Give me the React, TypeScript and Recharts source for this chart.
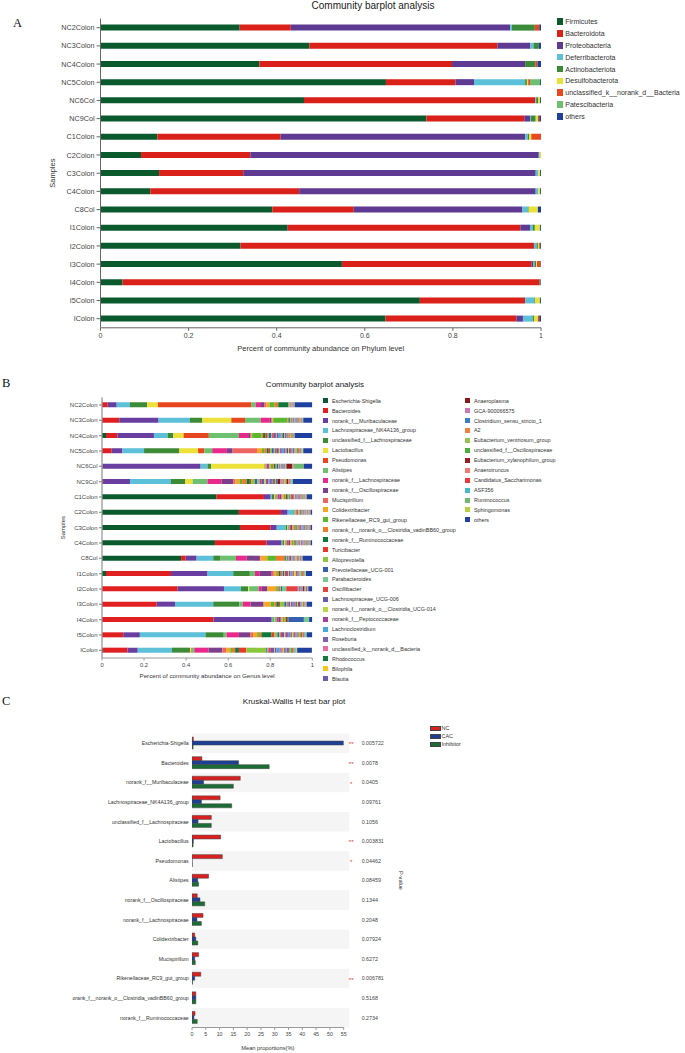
import React from "react";
import { Bar, BarChart, Label, Legend, ReferenceArea, XAxis, YAxis } from "recharts";

const FONT = "Arial, 'Liberation Sans', Helvetica, sans-serif";

// ---------- Panel A : phylum level ----------
const samples = [
  "NC2Colon", "NC3Colon", "NC4Colon", "NC5Colon", "NC6Col", "NC9Col",
  "C1Colon", "C2Colon", "C3Colon", "C4Colon", "C8Col",
  "I1Colon", "I2Colon", "I3Colon", "I4Colon", "I5Colon", "IColon",
];

const phylumNames = [
  "Firmicutes", "Bacteroidota", "Proteobacteria", "Deferribacterota", "Actinobacteriota",
  "Desulfobacterota", "unclassified_k__norank_d__Bacteria", "Patescibacteria", "others",
];
const phylumColors = [
  "#0b5a2e", "#da2119", "#5e3a93", "#5cc0d8", "#3a8a3a", "#e8e13a", "#e8481e", "#6cc070", "#1f3fa0",
];

const firmicutes = [0.316, 0.474, 0.361, 0.648, 0.462, 0.74, 0.129, 0.092, 0.133, 0.113, 0.39, 0.425, 0.318, 0.548, 0.05, 0.725, 0.647];
const bacteroidota = [0.116, 0.427, 0.437, 0.158, 0.525, 0.222, 0.28, 0.248, 0.191, 0.338, 0.185, 0.528, 0.666, 0.431, 0.947, 0.239, 0.297];
const proteobacteria = [0.498, 0.075, 0.166, 0.042, 0, 0.013, 0.555, 0.655, 0.664, 0.537, 0.383, 0.022, 0, 0.003, 0, 0, 0.015];
const deferribacterota = [0.004, 0.007, 0, 0.116, 0.002, 0.002, 0.006, 0.002, 0.006, 0.006, 0.012, 0.006, 0.006, 0.003, 0, 0.021, 0.022];
const actinobacteriota = [0.052, 0.012, 0.023, 0.004, 0.005, 0.011, 0.003, 0, 0, 0, 0.002, 0.005, 0.003, 0.004, 0.002, 0.002, 0.003];
const desulfobacterota = [0, 0, 0, 0.003, 0.004, 0.005, 0.005, 0.003, 0.004, 0.004, 0.021, 0.011, 0.003, 0.002, 0, 0.01, 0.009];
const unclassifiedBacteria = [0.01, 0, 0.005, 0.004, 0, 0.003, 0.022, 0, 0, 0, 0, 0, 0.002, 0.008, 0, 0, 0.003];
const patescibacteria = [0, 0, 0, 0.023, 0, 0, 0, 0, 0, 0, 0, 0.001, 0, 0, 0, 0.001, 0];
const phylumOthers = [0.004, 0.005, 0.008, 0.002, 0.002, 0.004, 0, 0, 0.002, 0.002, 0.007, 0.002, 0.002, 0.001, 0.001, 0.002, 0.004];

const phylumSeries = [
  firmicutes, bacteroidota, proteobacteria, deferribacterota, actinobacteriota,
  desulfobacterota, unclassifiedBacteria, patescibacteria, phylumOthers,
];

const ticks01 = [0, 0.2, 0.4, 0.6, 0.8, 1];

// ---------- Panel B : genus level ----------
const genusNames = [
  "Escherichia-Shigella", "Bacteroides", "norank_f__Muribaculaceae", "Lachnospiraceae_NK4A136_group",
  "unclassified_f__Lachnospiraceae", "Lactobacillus", "Pseudomonas", "Alistipes",
  "norank_f__Lachnospiraceae", "norank_f__Oscillospiraceae", "Mucispirillum", "Colidextribacter",
  "Rikenellaceae_RC9_gut_group", "norank_f__norank_o__Clostridia_vadinBB60_group", "norank_f__Ruminococcaceae",
  "Turicibacter", "Alloprevotella", "Prevotellaceae_UCG-001", "Parabacteroides", "Oscillibacter",
  "Lachnospiraceae_UCG-006", "norank_f__norank_o__Clostridia_UCG-014", "norank_f__Peptococcaceae",
  "Lachnoclostridium", "Roseburia", "unclassified_k__norank_d__Bacteria", "Rhodococcus", "Bilophila", "Blautia",
  "Anaeroplasma", "GCA-900066575", "Clostridium_sensu_stricto_1", "A2", "Eubacterium_ventriosum_group",
  "unclassified_f__Oscillospiraceae", "Eubacterium_xylanophilum_group", "Anaerotruncus",
  "Candidatus_Saccharimonas", "ASF356", "Ruminococcus", "Sphingomonas", "others",
];
const genusColors = [
  "#0b5a2e", "#e02020", "#6a3ea1", "#5bc0d8", "#3d8b37", "#ece03a", "#e8461e", "#6cc070",
  "#e8288a", "#7b3f8c", "#ee6560", "#f5a623", "#5ab82e", "#f07a2a", "#0d7a3c",
  "#e83a2a", "#8cc63e", "#3560b0", "#78c890", "#e84040", "#6a5aae", "#b8d848", "#a0459a",
  "#48a8dc", "#8060b0", "#ec6aa8", "#137a3a", "#f7c71a", "#6a60b0",
  "#8a1a1a", "#c878b8", "#3a80c0", "#f08040", "#98c050", "#4aae3a", "#9a1c1c", "#f07a70",
  "#e83838", "#4ab8c8", "#70b870", "#b8d040", "#2040a0",
];
const genusFirstColumn = 29;

const gNC2 = [0, 0.027, 0.043, 0.063, 0.082, 0.051, 0.445, 0.02, 0.025, 0.015, 0.01, 0.015, 0.025, 0.017, 0.048, 0.002, 0.002, 0.001, 0.002, 0.001, 0.001, 0.001, 0.002, 0.001, 0.001, 0.001, 0.001, 0.001, 0.001, 0.001, 0.001, 0.001, 0.001, 0.001, 0.001, 0.001, 0.001, 0.001, 0.001, 0.001, 0.001, 0.084];
const gNC3 = [0, 0.082, 0.187, 0.149, 0.059, 0.138, 0.065, 0.074, 0.044, 0.008, 0.003, 0.005, 0.068, 0.005, 0.006, 0.003, 0.004, 0.003, 0.004, 0.003, 0.003, 0.003, 0.002, 0.003, 0.002, 0.002, 0.002, 0.002, 0.003, 0.002, 0.002, 0.002, 0.004, 0.002, 0.002, 0.002, 0.002, 0.002, 0.002, 0.002, 0.001, 0.043];
const gNC4 = [0.019, 0.054, 0.174, 0.065, 0.027, 0.049, 0.12, 0.143, 0.044, 0.011, 0.003, 0.005, 0.044, 0.008, 0.012, 0.01, 0.005, 0.012, 0.004, 0.008, 0.01, 0.004, 0.006, 0.012, 0.004, 0.005, 0.008, 0.003, 0.005, 0.003, 0.004, 0.006, 0.01, 0.003, 0.004, 0.002, 0.002, 0.003, 0.002, 0.002, 0.001, 0.084];
const gNC5 = [0, 0.046, 0.051, 0.103, 0.168, 0.089, 0.029, 0.038, 0.07, 0.027, 0.116, 0.024, 0.01, 0.012, 0.01, 0.006, 0.008, 0.01, 0.006, 0.008, 0.01, 0.006, 0.008, 0.01, 0.006, 0.008, 0.006, 0.004, 0.008, 0.004, 0.006, 0.008, 0.006, 0.004, 0.006, 0.004, 0.006, 0.004, 0.004, 0.004, 0.004, 0.043];
const gNC6 = [0, 0.003, 0.466, 0.033, 0.017, 0.254, 0.004, 0.007, 0.006, 0.004, 0.003, 0.005, 0.012, 0.004, 0.006, 0.003, 0.004, 0.006, 0.004, 0.003, 0.005, 0.004, 0.003, 0.005, 0.003, 0.004, 0.003, 0.003, 0.004, 0.027, 0.001, 0.001, 0.001, 0.001, 0.001, 0.001, 0.001, 0, 0, 0.048, 0, 0.04];
const gNC9 = [0, 0.005, 0.128, 0.195, 0.068, 0.035, 0, 0.071, 0.067, 0.055, 0.01, 0.02, 0.012, 0.022, 0.015, 0.006, 0.018, 0.012, 0.01, 0.008, 0.015, 0.008, 0.012, 0.006, 0.01, 0.006, 0.008, 0.004, 0.01, 0.012, 0.006, 0.004, 0.01, 0.006, 0.004, 0.008, 0.005, 0.004, 0.006, 0.004, 0.002, 0.093];
const gC1 = [0.545, 0.225, 0.032, 0.006, 0.012, 0.004, 0.003, 0.008, 0.01, 0.008, 0.004, 0.006, 0.008, 0.004, 0.006, 0.004, 0.004, 0.004, 0.006, 0.012, 0.004, 0.004, 0.004, 0.004, 0.003, 0.008, 0.003, 0.003, 0.003, 0.002, 0.002, 0.003, 0.002, 0.002, 0.002, 0.001, 0.003, 0.002, 0.002, 0.002, 0.003, 0.027];
const gC2 = [0.651, 0.2, 0.032, 0.027, 0.006, 0.002, 0.002, 0.004, 0.003, 0.004, 0.002, 0.003, 0.004, 0.002, 0.003, 0.002, 0.002, 0.003, 0.002, 0.003, 0.003, 0.002, 0.002, 0.003, 0.002, 0.002, 0.002, 0.002, 0.002, 0.001, 0.001, 0.002, 0.002, 0.001, 0.001, 0.001, 0.002, 0.001, 0.001, 0.001, 0.001, 0.008];
const gC3 = [0.656, 0.146, 0.029, 0.043, 0.008, 0.003, 0.003, 0.005, 0.005, 0.006, 0.003, 0.005, 0.006, 0.003, 0.004, 0.003, 0.003, 0.004, 0.003, 0.004, 0.004, 0.003, 0.003, 0.004, 0.003, 0.003, 0.003, 0.003, 0.003, 0.002, 0.002, 0.003, 0.003, 0.002, 0.002, 0.002, 0.002, 0.001, 0.001, 0.001, 0, 0.008];
const gC4 = [0.537, 0.246, 0.071, 0.004, 0.009, 0.004, 0.003, 0.006, 0.008, 0.006, 0.003, 0.006, 0.008, 0.004, 0.005, 0.003, 0.003, 0.004, 0.004, 0.005, 0.004, 0.003, 0.004, 0.004, 0.003, 0.004, 0.003, 0.004, 0.003, 0.002, 0.002, 0.003, 0.002, 0.002, 0.002, 0.001, 0.002, 0.001, 0.001, 0.002, 0.001, 0.008];
const gC8 = [0.376, 0.022, 0.052, 0.079, 0.035, 0, 0, 0.073, 0.051, 0.063, 0.003, 0.032, 0.041, 0.041, 0.006, 0.003, 0.004, 0.006, 0.003, 0.004, 0.005, 0.003, 0.004, 0.004, 0.003, 0.004, 0.003, 0.006, 0.003, 0.002, 0.003, 0.003, 0.003, 0.002, 0.002, 0.002, 0.002, 0.002, 0.002, 0.002, 0, 0.046];
const gI1 = [0.019, 0.309, 0.174, 0.122, 0.079, 0, 0, 0.024, 0.021, 0.059, 0.01, 0.008, 0.006, 0.01, 0.008, 0.006, 0.005, 0.006, 0.004, 0.01, 0.005, 0.004, 0.006, 0.005, 0.004, 0.006, 0.004, 0.008, 0.004, 0.004, 0.004, 0.005, 0.004, 0.004, 0.004, 0.003, 0.004, 0.003, 0.003, 0.004, 0.002, 0.03];
const gI2 = [0, 0.36, 0.22, 0.08, 0.035, 0.005, 0, 0.045, 0.015, 0.025, 0.003, 0.04, 0.008, 0.004, 0.004, 0.004, 0.003, 0.005, 0.02, 0.055, 0.004, 0.002, 0.004, 0.003, 0.002, 0.003, 0.002, 0.002, 0.003, 0.006, 0.002, 0.002, 0.002, 0.002, 0.002, 0.003, 0.002, 0.001, 0.001, 0.001, 0.001, 0.019];
const gI3 = [0, 0.26, 0.087, 0.182, 0.124, 0, 0, 0.016, 0.038, 0.06, 0.004, 0.032, 0.016, 0.01, 0.012, 0.006, 0.02, 0.008, 0.006, 0.006, 0.008, 0.004, 0.008, 0.006, 0.004, 0.006, 0.004, 0.004, 0.006, 0.004, 0.004, 0.004, 0.004, 0.003, 0.003, 0.003, 0.003, 0.002, 0.002, 0.002, 0.002, 0.027];
const gI4 = [0, 0.53, 0.277, 0.004, 0.006, 0.003, 0, 0.012, 0.008, 0.01, 0.004, 0.006, 0.008, 0.006, 0.006, 0.006, 0, 0.074, 0.025, 0, 0, 0, 0, 0, 0, 0, 0, 0, 0, 0, 0, 0, 0, 0, 0, 0, 0, 0, 0, 0, 0, 0.015];
const gI5 = [0, 0.101, 0.079, 0.312, 0.087, 0, 0, 0.013, 0.059, 0.055, 0.012, 0.02, 0.008, 0.012, 0.048, 0.014, 0.014, 0.008, 0.006, 0.008, 0.01, 0.006, 0.012, 0.006, 0.004, 0.006, 0.004, 0.006, 0.006, 0.004, 0.005, 0.006, 0.006, 0.005, 0.006, 0.004, 0.005, 0.004, 0.004, 0.004, 0.004, 0.027];
const gI = [0.005, 0.116, 0.049, 0.163, 0.086, 0.005, 0.003, 0.012, 0.068, 0.065, 0.018, 0.02, 0.008, 0.015, 0.018, 0.035, 0.095, 0.006, 0.004, 0.012, 0.015, 0.004, 0.008, 0.015, 0.005, 0.006, 0.003, 0.006, 0.004, 0.004, 0.006, 0.01, 0.005, 0.004, 0.006, 0.003, 0.004, 0.004, 0.004, 0.006, 0.003, 0.07];

const genusBySample = [gNC2, gNC3, gNC4, gNC5, gNC6, gNC9, gC1, gC2, gC3, gC4, gC8, gI1, gI2, gI3, gI4, gI5, gI];

// ---------- Panel C : Kruskal-Wallis ----------
const kwNames = [
  "Escherichia-Shigella", "Bacteroides", "norank_f__Muribaculaceae", "Lachnospiraceae_NK4A136_group",
  "unclassified_f__Lachnospiraceae", "Lactobacillus", "Pseudomonas", "Alistipes",
  "norank_f__Oscillospiraceae", "norank_f__Lachnospiraceae", "Colidextribacter", "Mucispirillum",
  "Rikenellaceae_RC9_gut_group", "orank_f__norank_o__Clostridia_vadinBB60_group", "norank_f__Ruminococcaceae",
];
const ncMeans = [0.5, 3.6, 17.5, 10.2, 7.0, 10.4, 11.0, 6.0, 1.9, 4.0, 1.0, 2.4, 3.2, 1.4, 1.1];
const cacMeans = [55, 16.9, 4.2, 3.4, 2.2, 0.5, 0.05, 2.1, 2.9, 1.8, 1.4, 1.0, 1.0, 1.4, 0.7];
const inhibitorMeans = [0.4, 28.0, 15.0, 14.4, 7.0, 0.4, 0.1, 2.4, 4.6, 3.4, 2.1, 1.2, 0.2, 1.4, 1.9];
const kwPValues = ["0.005722", "0.0078", "0.0405", "0.09761", "0.1056", "0.003831", "0.04462", "0.08459", "0.1344", "0.2048", "0.07924", "0.6272", "0.006781", "0.5168", "0.2734"];
const kwStars = ["**", "**", "*", "", "", "**", "*", "", "", "", "", "", "**", "", ""];
const kwTicks = [0, 5, 10, 15, 20, 25, 30, 35, 40, 45, 50, 55];
const groupNames = ["NC", "CAC", "Inhibitor"];
const groupColors = ["#d92020", "#1e3f96", "#1b6c35"];

const phylumRows = samples.map((sample, i) => {
  const row: Record<string, string | number> = { sample };
  phylumSeries.forEach((vals, j) => {
    row[`p${j}`] = vals[i];
  });
  return row;
});

const genusRows = samples.map((sample, i) => {
  const row: Record<string, string | number> = { sample };
  genusBySample[i].forEach((v, j) => {
    row[`g${j}`] = v;
  });
  return row;
});

const kwRows = kwNames.map((name, i) => ({
  name,
  pvalue: kwPValues[i],
  nc: ncMeans[i],
  cac: cacMeans[i],
  inh: inhibitorMeans[i],
}));

// legends are drawn in series order (Recharts would sort them by name)
function PhylumLegend() {
  return (
    <div>
      {phylumNames.map((name, i) => (
        <div
          key={name}
          style={{ display: "flex", alignItems: "center", height: 11.83, fontSize: 7, color: "#333", whiteSpace: "nowrap" }}
        >
          <span style={{ width: 6.6, height: 6.6, background: phylumColors[i], marginRight: 2, flex: "none" }} />
          {name}
        </div>
      ))}
    </div>
  );
}

function GenusLegend() {
  return (
    <div style={{ position: "relative", width: 360, height: 290 }}>
      {genusNames.map((name, i) => {
        const col = i < genusFirstColumn ? 0 : 1;
        const row = col ? i - genusFirstColumn : i;
        return (
          <div
            key={name}
            style={{
              position: "absolute", left: col * 142, top: row * 9.93, height: 9.93,
              display: "flex", alignItems: "center", fontSize: 5.4, color: "#333", whiteSpace: "nowrap",
            }}
          >
            <span style={{ width: 5, height: 5, background: genusColors[i], marginRight: 3.7, flex: "none" }} />
            {name}
          </div>
        );
      })}
    </div>
  );
}

function KwLegend() {
  return (
    <div>
      {groupNames.map((name, i) => (
        <div key={name} style={{ display: "flex", alignItems: "center", height: 8, fontSize: 5.4, color: "#333", whiteSpace: "nowrap" }}>
          <span style={{ width: 9, height: 3.3, background: groupColors[i], border: "0.5px solid #444", marginRight: 0.5, flex: "none" }} />
          {name}
        </div>
      ))}
    </div>
  );
}

function PValueTick(props: any) {
  const { x, y, index, payload } = props;
  const i = typeof index === "number" ? index : payload?.index ?? 0;
  return (
    <g>
      <text x={x + 7.5} y={y} dy="0.5em" textAnchor="middle" fontSize={6} fill="#e53030">
        {kwStars[i]}
      </text>
      <text x={x + 18} y={y} dy="0.35em" textAnchor="start" fontSize={5.3} fill="#444">
        {payload?.value}
      </text>
    </g>
  );
}

const letterStyle: React.CSSProperties = {
  position: "absolute", fontFamily: "'Times New Roman', 'Liberation Serif', serif", fontSize: 12.5, lineHeight: "12.5px", color: "#111",
};

function Title({ text, cx, top, size }: { text: string; cx: number; top: number; size: number }) {
  return (
    <div style={{ position: "absolute", left: cx - 120, top, width: 240, textAlign: "center", fontSize: size, lineHeight: `${size}px`, color: "#222", whiteSpace: "nowrap" }}>
      {text}
    </div>
  );
}

export default function App() {
  return (
    <div style={{ position: "absolute", left: 0, top: 0, width: 685, height: 1053, background: "#fff", fontFamily: FONT, overflow: "hidden" }}>
      <div style={{ ...letterStyle, left: 13, top: 17 }}>A</div>
      <div style={{ ...letterStyle, left: 2, top: 377 }}>B</div>
      <div style={{ ...letterStyle, left: 2, top: 695 }}>C</div>

      <Title text="Community barplot analysis" cx={373} top={1.2} size={10} />
      <Title text="Community barplot analysis" cx={315} top={381} size={8} />
      <Title text="Kruskal-Wallis H test bar plot" cx={294} top={697.5} size={8} />

      {/* Panel A */}
      <div style={{ position: "absolute", left: 0, top: 0 }}>
        <BarChart width={685} height={355} layout="vertical" data={phylumRows} barSize={6}
          margin={{ top: 18.6, right: 144, bottom: 4, left: 0 }}>
          <XAxis type="number" domain={[0, 1]} ticks={ticks01} allowDataOverflow height={23.2}
            tickSize={3} tick={{ fontSize: 7, fill: "#444" }} stroke="#666">
            <Label value="Percent of community abundance on Phylum level" position="insideBottom" offset={0}
              style={{ fontSize: 7.5, fill: "#333" }} />
          </XAxis>
          <YAxis type="category" dataKey="sample" width={100.5} interval={0} tickSize={4} tickMargin={2}
            tick={{ fontSize: 7.2, fill: "#444" }} stroke="#666">
            <Label value="Samples" angle={-90} position="insideLeft" offset={52}
              style={{ textAnchor: "middle", fontSize: 7.5, fill: "#333" }} />
          </YAxis>
          {phylumNames.map((name, j) => (
            <Bar key={name} dataKey={`p${j}`} name={name} stackId="phylum" fill={phylumColors[j]} isAnimationActive={false} />
          ))}
          <Legend content={PhylumLegend} layout="horizontal" verticalAlign="middle" align="center"
            wrapperStyle={{ left: 556.7, top: 15.8, width: 128 }} />
        </BarChart>
      </div>

      {/* Panel B */}
      <div style={{ position: "absolute", left: 0, top: 380 }}>
        <BarChart width={685} height={302} layout="vertical" data={genusRows} barSize={5}
          margin={{ top: 17.3, right: 372.7, bottom: 4, left: 0 }}>
          <XAxis type="number" domain={[0, 1]} ticks={ticks01} allowDataOverflow height={20}
            tickSize={2.5} tick={{ fontSize: 5.8, fill: "#444" }} stroke="#999">
            <Label value="Percent of community abundance on Genus level" position="insideBottom" offset={0}
              style={{ fontSize: 6.2, fill: "#333" }} />
          </XAxis>
          <YAxis type="category" dataKey="sample" width={102} interval={0} tickSize={3} tickMargin={1.5}
            tick={{ fontSize: 6, fill: "#444" }} stroke="#999" strokeWidth={1.3}>
            <Label value="Samples" angle={-90} position="insideLeft" offset={63}
              style={{ textAnchor: "middle", fontSize: 6, fill: "#333" }} />
          </YAxis>
          {genusNames.map((name, j) => (
            <Bar key={name} dataKey={`g${j}`} name={name} stackId="genus" fill={genusColors[j]} isAnimationActive={false} />
          ))}
          <Legend content={GenusLegend} layout="horizontal" verticalAlign="middle" align="center"
            wrapperStyle={{ left: 323.3, top: 15.75, width: 360 }} />
        </BarChart>
      </div>

      {/* Panel C */}
      <div style={{ position: "absolute", left: 0, top: 690 }}>
        <BarChart width={470} height={363} layout="vertical" data={kwRows} barGap={0} barCategoryGap="18%"
          margin={{ top: 43.5, right: 64.3, bottom: 3.4, left: 0 }}>
          {kwNames.filter((_, i) => i % 2 === 0).map((name) => (
            <ReferenceArea key={name} y1={name} y2={name} x1={0} x2={57} ifOverflow="visible"
              fill="#f5f5f5" fillOpacity={1} stroke="none" />
          ))}
          <XAxis type="number" domain={[0, 55]} ticks={kwTicks} allowDataOverflow height={22.1}
            tickSize={2.5} tick={{ fontSize: 5.3, fill: "#444" }} stroke="#999">
            <Label value="Mean proportions(%)" position="insideBottom" offset={0} style={{ fontSize: 5.7, fill: "#333" }} />
          </XAxis>
          <YAxis type="category" dataKey="name" width={192} interval={0} tickLine={false} axisLine={false}
            tickSize={0} tickMargin={3.3} tick={{ fontSize: 5.2, fill: "#333" }} />
          <YAxis yAxisId="p" orientation="right" type="category" dataKey="pvalue" width={62} interval={0}
            tickLine={false} axisLine={false} tickSize={0} tickMargin={0} tick={PValueTick}>
            <Label value="P-value" angle={90} position="insideRight" offset={4.7}
              style={{ textAnchor: "middle", fontSize: 5.6, fill: "#333" }} />
          </YAxis>
          <Bar dataKey="nc" name={groupNames[0]} fill={groupColors[0]} stroke="#444" strokeWidth={0.5} isAnimationActive={false} />
          <Bar dataKey="cac" name={groupNames[1]} fill={groupColors[1]} stroke="#444" strokeWidth={0.5} isAnimationActive={false} />
          <Bar dataKey="inh" name={groupNames[2]} fill={groupColors[2]} stroke="#444" strokeWidth={0.5} isAnimationActive={false} />
          <Legend content={KwLegend} layout="horizontal" verticalAlign="middle" align="center"
            wrapperStyle={{ left: 430, top: 34.3, width: 40 }} />
        </BarChart>
      </div>
    </div>
  );
}
